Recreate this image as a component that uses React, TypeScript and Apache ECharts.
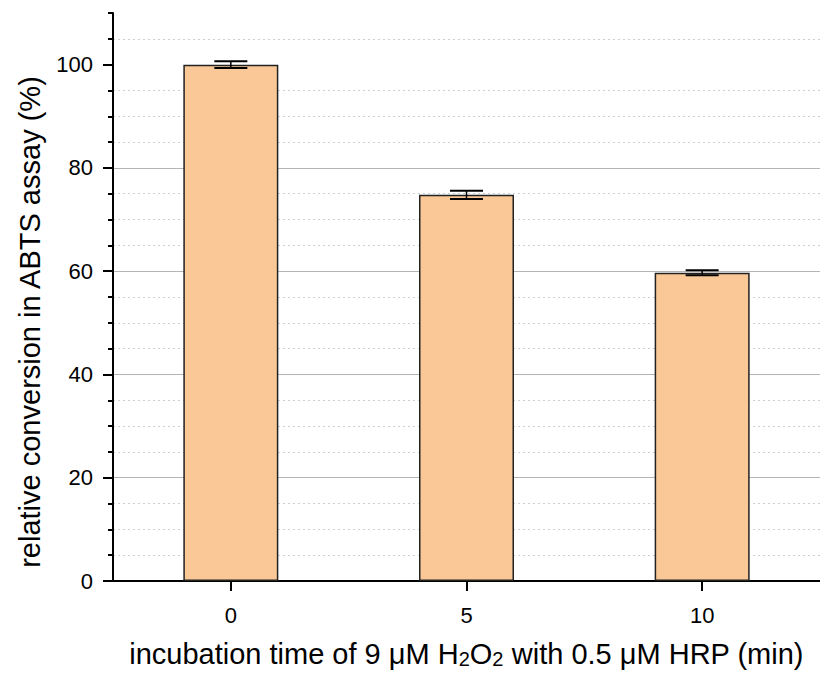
import React, { useEffect, useRef } from "react";
import * as echarts from "echarts";

const categories = ["0", "5", "10"];
const means = [100, 74.8, 59.7];
const errors = [0.65, 0.8, 0.5];
const yTicks = [0, 20, 40, 60, 80, 100];

const FONT = '"Liberation Sans", Arial, sans-serif';

export default function App() {
  const ref = useRef<HTMLDivElement>(null);

  useEffect(() => {
    document.body.style.margin = "0";
    if (!ref.current) return;
    const chart = echarts.init(ref.current, null, { renderer: "svg" });

    const errData = means.map((m, i) => [i, m - errors[i], m + errors[i]]);

    chart.setOption({
      animation: false,
      backgroundColor: "#ffffff",
      textStyle: { fontFamily: FONT },
      grid: { left: 113, right: 0, top: 13, bottom: 93, containLabel: false, outerBoundsMode: "none" },
      xAxis: [
        {
          type: "category",
          data: categories,
          position: "bottom",
          axisLine: { show: true, lineStyle: { color: "#000", width: 2 } },
          axisTick: { show: true, alignWithLabel: true, inside: false, length: 10, lineStyle: { color: "#000", width: 2 } },
          axisLabel: { color: "#000", fontSize: 22, fontFamily: FONT, margin: 23 },
          splitLine: { show: false },
          name: "incubation time of 9 μM H{sub|2}O{sub|2} with 0.5 μM HRP (min)",
          nameLocation: "middle",
          nameGap: 58,
          nameTextStyle: {
            color: "#000",
            fontSize: 29,
            fontFamily: FONT,
            lineHeight: 30,
            rich: {
              sub: { fontSize: 20, fontFamily: FONT, color: "#000", verticalAlign: "bottom", lineHeight: 8 },
            },
          },
        },
        {
          type: "category",
          data: categories,
          position: "top",
          axisLine: { show: true, lineStyle: { color: "#000", width: 2 } },
          axisTick: { show: false },
          axisLabel: { show: false },
          splitLine: { show: false },
        },
      ],
      yAxis: [
        {
          type: "value",
          min: 0,
          max: 110,
          interval: 20,
          position: "left",
          axisLine: { show: true, onZero: false, lineStyle: { color: "#000", width: 2 } },
          axisTick: { show: true, length: 10, customValues: yTicks, lineStyle: { color: "#000", width: 2 } },
          axisLabel: {
            color: "#000",
            fontSize: 22,
            fontFamily: FONT,
            margin: 20,
            customValues: yTicks,
          },
          splitLine: { show: true, showMaxLine: false, lineStyle: { color: "#b4b4b4", width: 1, type: "solid" } },
          name: "relative conversion in ABTS assay (%)",
          nameLocation: "middle",
          nameGap: 69,
          nameTextStyle: { color: "#000", fontSize: 29, fontFamily: FONT, padding: [0, 50, 0, 0] },
        },
        {
          type: "value",
          min: 0,
          max: 110,
          interval: 5,
          position: "left",
          axisLine: { show: false },
          axisTick: { show: true, length: 5, lineStyle: { color: "#000", width: 2 } },
          axisLabel: { show: false },
          splitLine: {
            show: true,
            showMaxLine: false,
            lineStyle: {
              color: ["rgba(0,0,0,0)", "#cfcfcf", "#cfcfcf", "#cfcfcf"],
              width: 1,
              type: [2, 3],
            },
          },
        },
      ],
      series: [
        {
          type: "bar",
          data: means,
          xAxisIndex: 0,
          yAxisIndex: 0,
          barWidth: 95,
          itemStyle: { color: "#F9C896", borderColor: "#222", borderWidth: 1.5 },
          z: 3,
        },
        {
          type: "custom",
          xAxisIndex: 0,
          yAxisIndex: 0,
          data: errData,
          z: 4,
          renderItem: (params: any, api: any) => {
            const x = api.value(0);
            const lo = api.value(1);
            const hi = api.value(2);
            const pHi = api.coord([x, hi]);
            const pLo = api.coord([x, lo]);
            const half = 16.5;
            return {
              type: "group",
              children: [
                { type: "line", shape: { x1: pHi[0], y1: pHi[1], x2: pLo[0], y2: pLo[1] }, style: { stroke: "#000", lineWidth: 1.5 } },
                { type: "line", shape: { x1: pHi[0] - half, y1: pHi[1], x2: pHi[0] + half, y2: pHi[1] }, style: { stroke: "#000", lineWidth: 2 } },
                { type: "line", shape: { x1: pLo[0] - half, y1: pLo[1], x2: pLo[0] + half, y2: pLo[1] }, style: { stroke: "#000", lineWidth: 2 } },
              ],
            };
          },
        },
      ],
    });

    return () => chart.dispose();
  }, []);

  return <div ref={ref} style={{ width: 820, height: 674 }} />;
}
